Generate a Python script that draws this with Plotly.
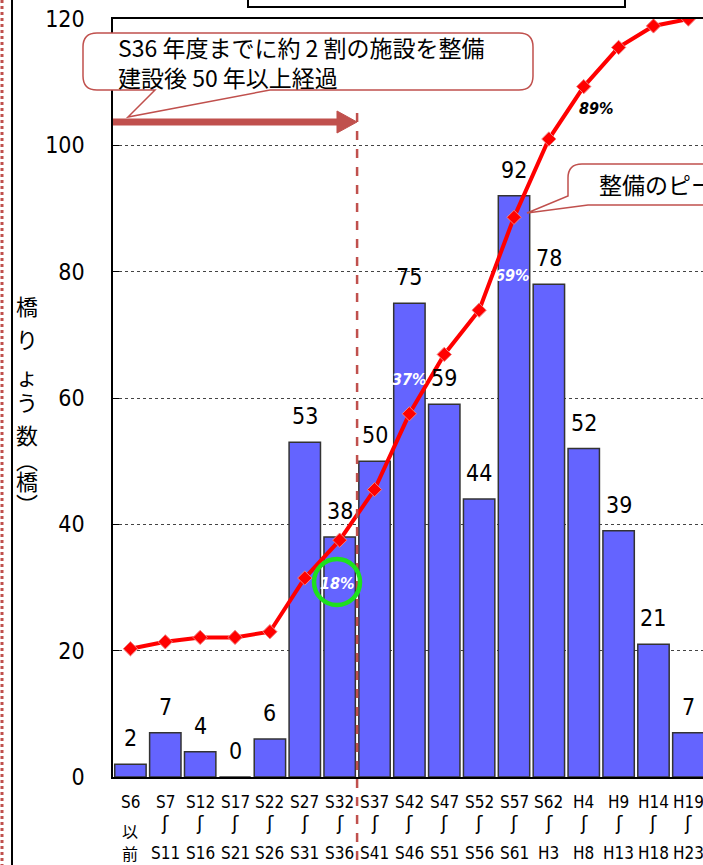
import plotly.graph_objects as go

# ---- data ----
cat_top = ["S6", "S7", "S12", "S17", "S22", "S27", "S32", "S37", "S42", "S47",
           "S52", "S57", "S62", "H4", "H9", "H14", "H19"]
cat_mid = ["以"] + ["ʃ"] * 16
cat_bot = ["前", "S11", "S16", "S21", "S26", "S31", "S36", "S41", "S46", "S51",
           "S56", "S61", "H3", "H8", "H13", "H18", "H23"]
bridges = [2, 7, 4, 0, 6, 53, 38, 50, 75, 59, 44, 92, 78, 52, 39, 21, 7]
cum_pct = [0.3, 1.4, 2.1, 2.1, 3.0, 11.5, 17.5, 25.5, 37.5, 46.9, 53.9, 68.6,
           81.0, 89.3, 95.5, 98.9, 100.0]
pct_labels = {6: "18%", 8: "37%", 11: "69%", 13: "89%"}
y_ticks = [0, 20, 40, 60, 80, 100, 120]
y_title_chars = list("橋りょう数︵橋︶")

W, H = 703, 865
L, R, T, B = 113, 703, 19, 777
NARROW = "DejaVu Sans Condensed, Liberation Sans Narrow, Liberation Sans, sans-serif"
JP = "Noto Sans CJK JP, sans-serif"
RED2 = "#c0504d"

def px(x):
    return (x - L) / (R - L)

def py(y):
    return (B - y) / (B - T)

def path(cmds):
    out = []
    for c in cmds:
        if c[0] in ("M", "L"):
            out.append(f"{c[0]} {px(c[1]):.5f},{py(c[2]):.5f}")
        elif c[0] == "Q":
            out.append(f"Q {px(c[1]):.5f},{py(c[2]):.5f} {px(c[3]):.5f},{py(c[4]):.5f}")
        elif c[0] == "Z":
            out.append("Z")
    return " ".join(out)

x = list(range(len(bridges)))

fig = go.Figure()
fig.add_trace(go.Bar(
    x=x, y=bridges, marker=dict(color="#6464ff", line=dict(color="#333333", width=1.5)),
    width=0.9, yaxis="y", showlegend=False, hoverinfo="skip"))
fig.add_trace(go.Scatter(
    x=x, y=cum_pct, yaxis="y2", mode="lines+markers",
    line=dict(color="#ff0000", width=4),
    marker=dict(symbol="diamond", size=11, color="#ff0000",
                line=dict(color="#f08080", width=1)),
    showlegend=False, hoverinfo="skip"))

ann = []
# bar value labels
for i, v in enumerate(bridges):
    ann.append(dict(x=i, y=v, xref="x", yref="y", text=str(v), showarrow=False,
                    yanchor="middle", yshift=26,
                    font=dict(family=NARROW, size=23, color="black")))
# x category labels (three rows)
for i in range(len(cat_top)):
    ann.append(dict(x=i, y=py(802), xref="x", yref="paper", text=cat_top[i],
                    showarrow=False, yanchor="middle",
                    font=dict(family=NARROW, size=17, color="black")))
    if i == 0:
        ann.append(dict(x=i, y=py(831), xref="x", yref="paper", text=cat_mid[i],
                        showarrow=False, yanchor="middle",
                        font=dict(family=JP, size=16, color="black")))
    else:
        ann.append(dict(x=i, y=py(823), xref="x", yref="paper", text=cat_mid[i],
                        showarrow=False, yanchor="middle",
                        font=dict(family="DejaVu Sans, sans-serif", size=19,
                                  color="black")))
    ann.append(dict(x=i, y=py(853), xref="x", yref="paper", text=cat_bot[i],
                    showarrow=False, yanchor="middle",
                    font=dict(family=NARROW if i else JP, size=17 if i else 16,
                              color="black")))
# percentage labels
pct_pos = {6: (337, 583, "white"), 8: (409, 379, "white"), 11: (512, 275, "white"),
           13: (596, 108, "black")}
for i, t in pct_labels.items():
    xx, yy, col = pct_pos[i]
    ann.append(dict(x=px(xx), y=py(yy), xref="paper", yref="paper", text=t,
                    showarrow=False, xanchor="center", yanchor="middle",
                    font=dict(family=NARROW, size=16, color=col,
                              weight="bold", style="italic")))
# y axis title (vertical, one glyph per annotation)
title_y = [305, 338, 375, 401, 434, 459, 480, 503]
for ch, yy in zip(y_title_chars, title_y):
    ann.append(dict(x=px(27), y=py(yy), xref="paper", yref="paper", text=ch,
                    showarrow=False, xanchor="center", yanchor="middle",
                    font=dict(family=JP, size=22, color="black")))
# callout texts
ann.append(dict(x=px(116), y=py(62), xref="paper", yref="paper",
                text="S36 年度までに約 2 割の施設を整備<br>建設後 50 年以上経過",
                showarrow=False, xanchor="left", yanchor="middle", align="left",
                font=dict(family=JP, size=23, color="black")))
ann.append(dict(x=px(597), y=py(184), xref="paper", yref="paper",
                text="整備のピーク", showarrow=False, xanchor="left",
                yanchor="middle", font=dict(family=JP, size=23, color="black")))

shapes = []
# left page lines
shapes.append(dict(type="line", xref="paper", yref="paper", x0=px(12), x1=px(12),
                   y0=py(0), y1=py(H), line=dict(color="black", width=2)))
shapes.append(dict(type="line", xref="paper", yref="paper", x0=px(2), x1=px(2),
                   y0=py(0), y1=py(H), line=dict(color=RED2, width=3, dash="dot")))
# top title box (cut off)
shapes.append(dict(type="rect", xref="paper", yref="paper", x0=px(248), x1=px(625),
                   y0=py(7), y1=py(-20), line=dict(color="black", width=2),
                   fillcolor="white"))
# dashed vertical divider
shapes.append(dict(type="line", xref="x", yref="paper", x0=6.5, x1=6.5,
                   y0=py(113), y1=py(H + 5), line=dict(color=RED2, width=2.5, dash="dash")))
# arrow
shapes.append(dict(type="line", xref="paper", yref="paper", x0=px(113), x1=px(340),
                   y0=py(122), y1=py(122), line=dict(color=RED2, width=7)))
shapes.append(dict(type="path", xref="paper", yref="paper",
                   path=path([("M", 337, 111), ("L", 357, 122), ("L", 337, 133), ("Z",)]),
                   fillcolor=RED2, line=dict(color=RED2, width=1)))
# callout 1
r = 14
x0, x1, y0, y1 = 83, 533, 33, 90
shapes.append(dict(type="path", xref="paper", yref="paper", path=path([
    ("M", x0 + r, y0), ("L", x1 - r, y0), ("Q", x1, y0, x1, y0 + r),
    ("L", x1, y1 - r), ("Q", x1, y1, x1 - r, y1), ("L", 270, y1),
    ("L", 128, 117), ("L", 155, y1), ("L", x0 + r, y1),
    ("Q", x0, y1, x0, y1 - r), ("L", x0, y0 + r), ("Q", x0, y0, x0 + r, y0), ("Z",)]),
    fillcolor="white", line=dict(color=RED2, width=1.5)))
# callout 2
x0, x1, y0, y1 = 568, 760, 164, 205
shapes.append(dict(type="path", xref="paper", yref="paper", path=path([
    ("M", x0 + r, y0), ("L", x1, y0), ("L", x1, y1), ("L", 588, y1),
    ("L", 527, 213), ("L", x0, 196), ("L", x0, y0 + r),
    ("Q", x0, y0, x0 + r, y0), ("Z",)]),
    fillcolor="white", line=dict(color=RED2, width=1.5)))
# green circle
shapes.append(dict(type="circle", xref="paper", yref="paper",
                   x0=px(314), x1=px(360), y0=py(605), y1=py(559),
                   line=dict(color="#1ee01e", width=4.5)))

fig.update_layout(
    width=W, height=H,
    margin=dict(l=L, r=W - R, t=T, b=H - B),
    paper_bgcolor="white", plot_bgcolor="white",
    xaxis=dict(range=[-0.5, 16.42], showticklabels=False, showgrid=False,
               zeroline=False, showline=True, mirror=True, linecolor="black",
               linewidth=1.5, ticks=""),
    yaxis=dict(range=[0, 120], tickvals=y_ticks, showgrid=True, gridcolor="#444444",
               griddash="dot", gridwidth=1, zeroline=False, showline=True,
               linecolor="black", linewidth=1.5, ticks="inside", ticklen=6,
               tickcolor="black", ticklabelstandoff=22,
               tickfont=dict(family=NARROW, size=23, color="black")),
    yaxis2=dict(range=[-20, 100], overlaying="y", visible=False),
    annotations=ann, shapes=shapes, bargap=0.1,
)
fig.write_html("out.html", config={"displayModeBar": False},
               post_script="document.body.style.margin='0';"
                           "document.body.style.overflow='hidden';")
